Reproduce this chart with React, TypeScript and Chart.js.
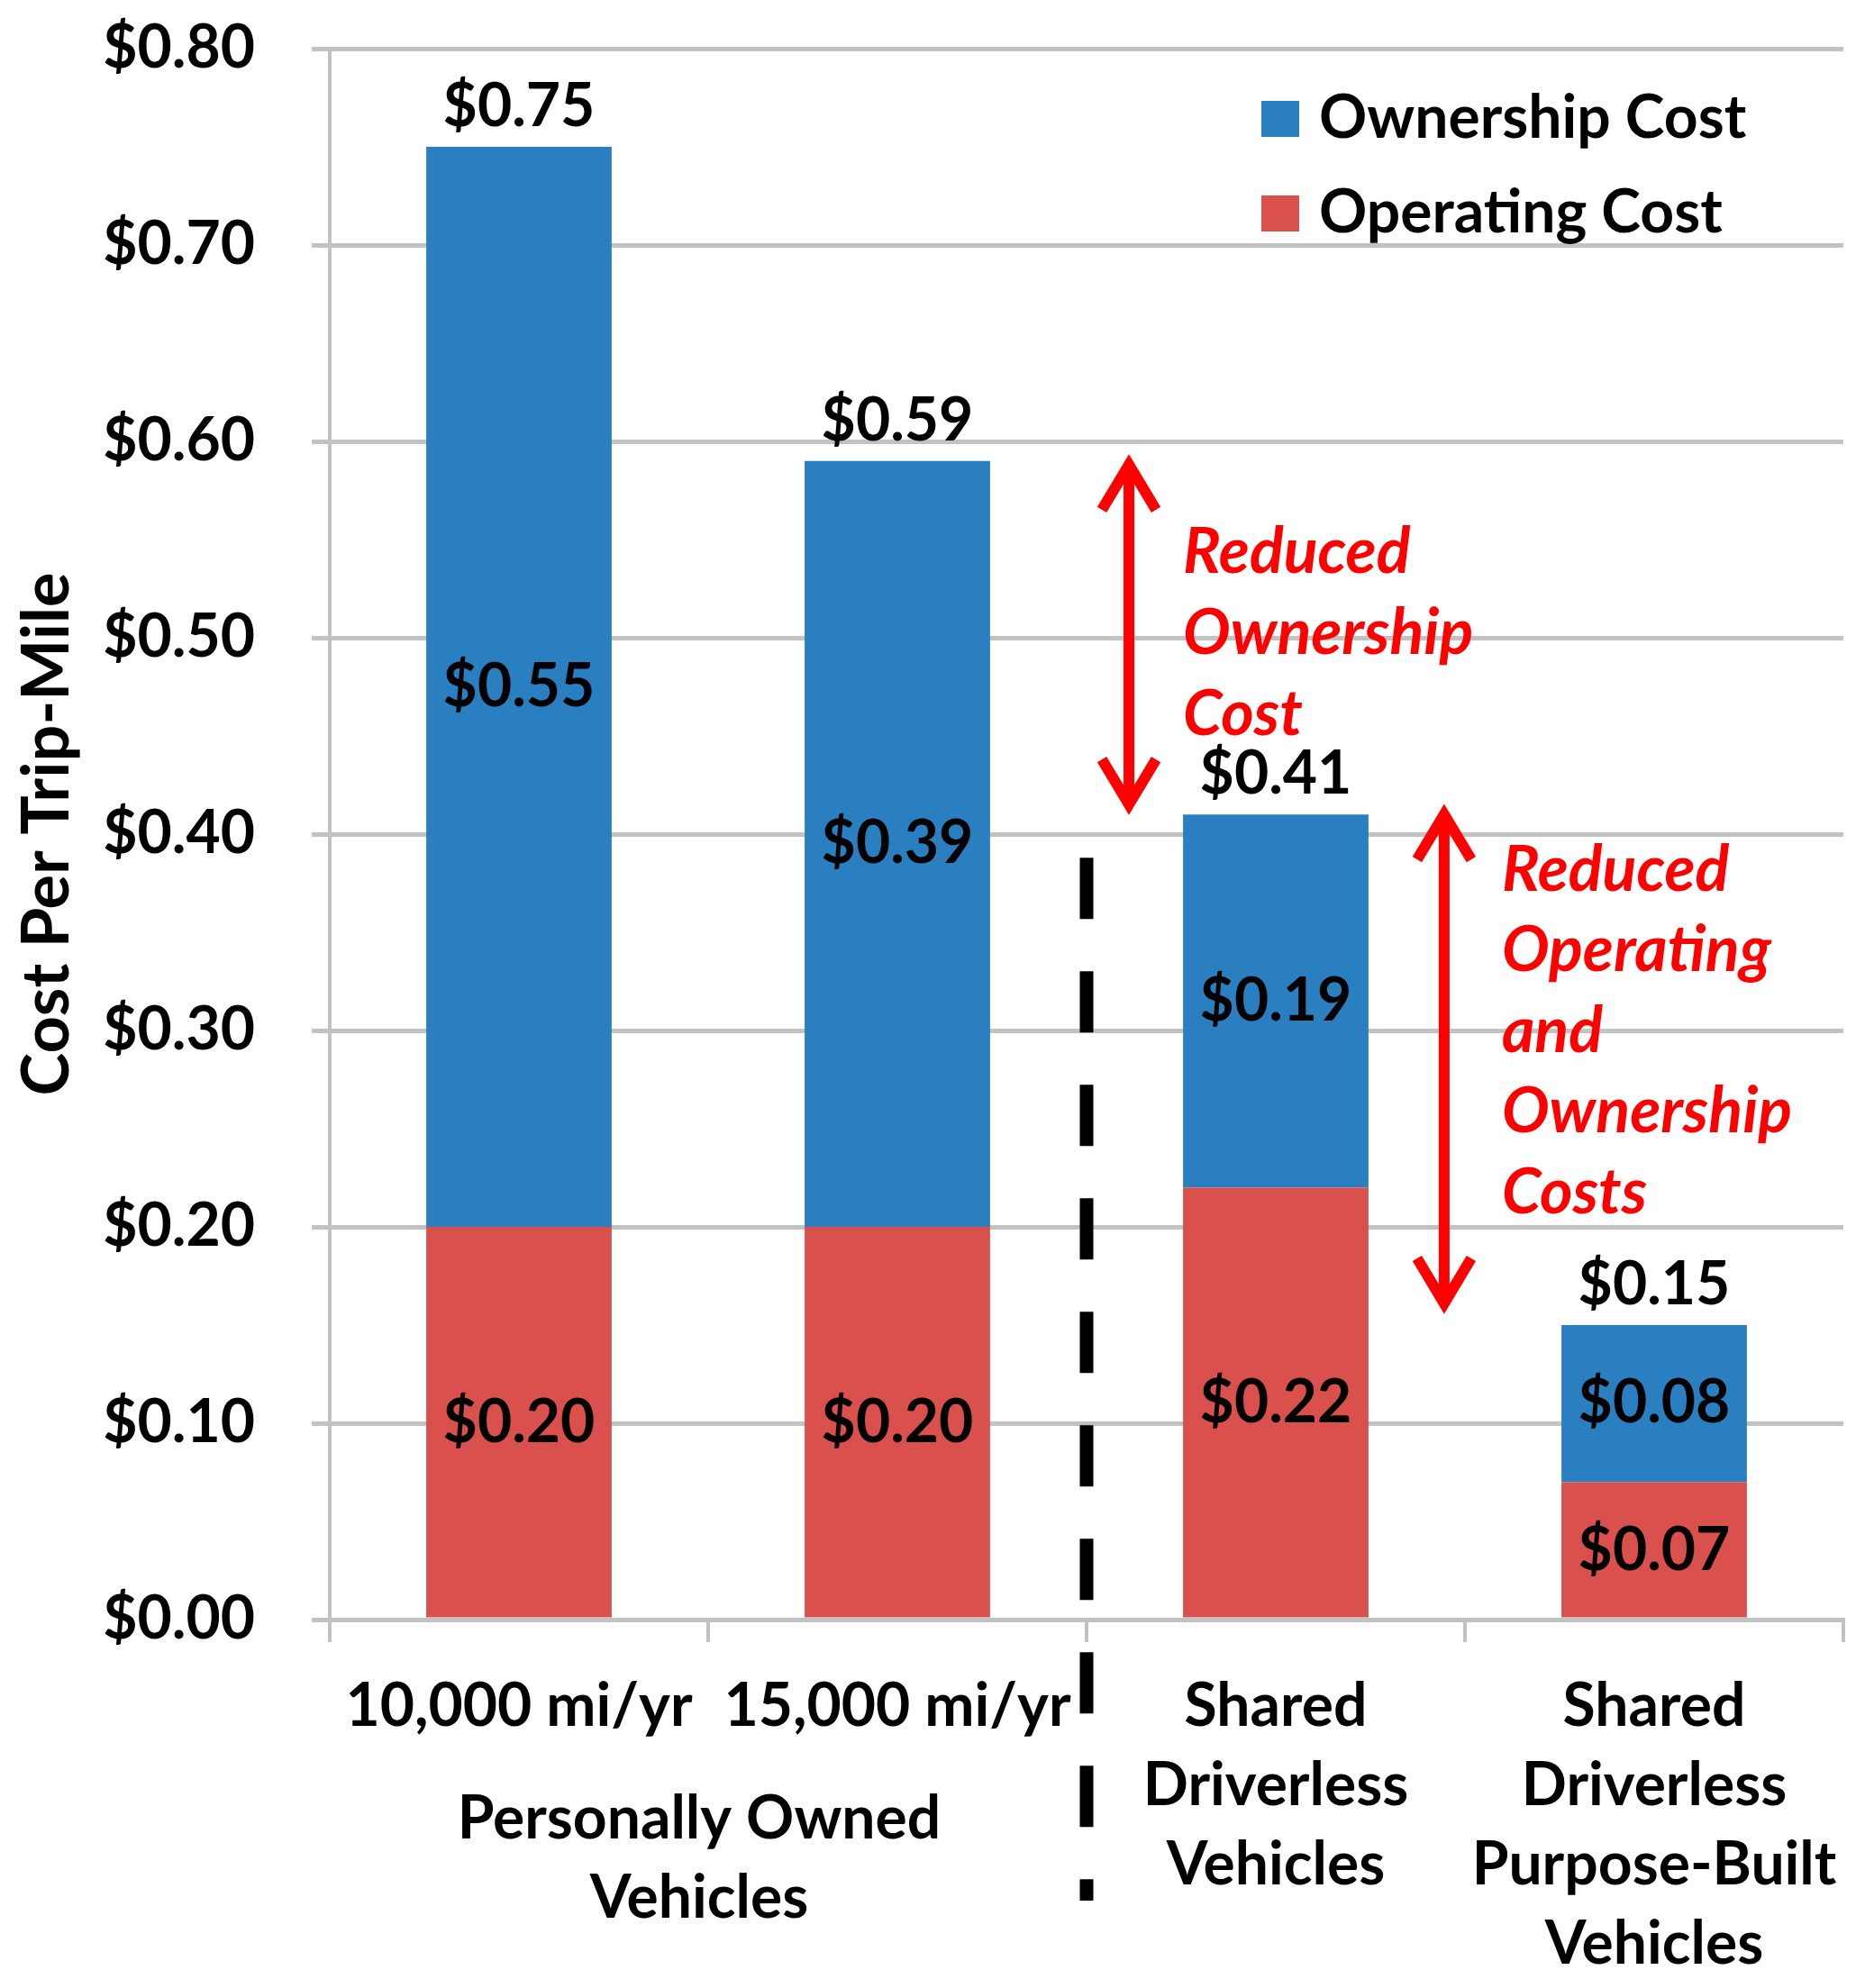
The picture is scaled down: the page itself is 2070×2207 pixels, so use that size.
import React, { useEffect, useRef } from "react";
import { Chart, registerables } from "chart.js";

Chart.register(...registerables);

// ---- data ----
const categories: string[][] = [
  ["10,000 mi/yr"],
  ["15,000 mi/yr"],
  ["Shared", "Driverless", "Vehicles"],
  ["Shared", "Driverless", "Purpose-Built", "Vehicles"],
];
const operatingCost = [0.2, 0.2, 0.22, 0.07];
const ownershipCost = [0.55, 0.39, 0.19, 0.08];
const totalCost = [0.75, 0.59, 0.41, 0.15];
const seriesNames = ["Ownership Cost", "Operating Cost"];
const groupLabel = ["Personally Owned", "Vehicles"];
const noteOwnership = ["Reduced", "Ownership", "Cost"];
const noteBoth = ["Reduced", "Operating", "and", "Ownership", "Costs"];
const yMin = 0;
const yMax = 0.8;
const yStep = 0.1;

// ---- style ----
const BLUE = "#2a7fc1";
const RED = "#d9504d";
const GRID = "#c2c2c2";
const FONT_FAMILY = "Lato";
const FS = 66;
const NOTE_FS = 70;
const fmt = (v: number) => "$" + v.toFixed(2);

function drawArrow(ctx: CanvasRenderingContext2D, x: number, y1: number, y2: number) {
  const hw = 30;
  const hl = 54;
  ctx.save();
  ctx.strokeStyle = "#ff0000";
  ctx.lineWidth = 12;
  ctx.lineCap = "butt";
  ctx.lineJoin = "miter";
  ctx.beginPath();
  ctx.moveTo(x, y1 + 4);
  ctx.lineTo(x, y2 - 4);
  ctx.stroke();
  ctx.beginPath();
  ctx.moveTo(x - hw, y1 + hl);
  ctx.lineTo(x, y1 + 4);
  ctx.lineTo(x + hw, y1 + hl);
  ctx.stroke();
  ctx.beginPath();
  ctx.moveTo(x - hw, y2 - hl);
  ctx.lineTo(x, y2 - 4);
  ctx.lineTo(x + hw, y2 - hl);
  ctx.stroke();
  ctx.restore();
}

const overlayPlugin = {
  id: "overlay",
  afterDatasetsDraw(chart: any) {
    const { ctx, chartArea, scales } = chart;
    const x = scales.x;
    const y = scales.y;
    const meta = chart.getDatasetMeta(0);
    ctx.save();
    ctx.font = `bold ${FS}px ${FONT_FAMILY}`;
    ctx.fillStyle = "#000";
    ctx.textAlign = "center";
    ctx.textBaseline = "middle";
    for (let i = 0; i < categories.length; i++) {
      const bx = meta.data[i].x;
      ctx.fillText(fmt(operatingCost[i]), bx, y.getPixelForValue(operatingCost[i] / 2));
      ctx.fillText(
        fmt(ownershipCost[i]),
        bx,
        y.getPixelForValue(operatingCost[i] + ownershipCost[i] / 2)
      );
      ctx.fillText(fmt(totalCost[i]), bx, y.getPixelForValue(totalCost[i]) - 44);
    }

    const c0 = x.getPixelForValue(0);
    const c1 = x.getPixelForValue(1);
    const c2 = x.getPixelForValue(2);
    const c3 = x.getPixelForValue(3);
    const cw = c1 - c0;

    // group label
    const gx = (c0 + c1) / 2 - 10;
    groupLabel.forEach((t, k) => {
      ctx.fillText(t, gx, chartArea.bottom + 222 + k * 88);
    });

    // dashed divider
    const dx = (c1 + c2) / 2;
    ctx.save();
    ctx.strokeStyle = "#000";
    ctx.lineWidth = 15;
    ctx.setLineDash([68, 58]);
    ctx.beginPath();
    ctx.moveTo(dx, y.getPixelForValue(0.388));
    ctx.lineTo(dx, chartArea.bottom + 312);
    ctx.stroke();
    ctx.restore();

    // arrows
    const a1x = (c1 + c2) / 2 + cw * 0.112;
    drawArrow(ctx, a1x, y.getPixelForValue(totalCost[1]), y.getPixelForValue(totalCost[2]) - 7);
    const a2x = (c2 + c3) / 2 - cw * 0.055;
    drawArrow(ctx, a2x, y.getPixelForValue(totalCost[2]) - 4, y.getPixelForValue(totalCost[3]) - 20);

    // notes
    ctx.fillStyle = "#ff0000";
    ctx.textAlign = "left";
    ctx.font = `italic bold ${NOTE_FS}px ${FONT_FAMILY}`;
    const n1y = y.getPixelForValue(totalCost[1]) + 102;
    noteOwnership.forEach((t, k) => ctx.fillText(t, a1x + 60, n1y + k * 90));
    const n2y = y.getPixelForValue(totalCost[2]) + 62;
    noteBoth.forEach((t, k) => ctx.fillText(t, a2x + 64, n2y + k * 89.5));

    // legend
    const lx = chartArea.right - 646;
    const ly = chartArea.top + 58;
    const colors = [BLUE, RED];
    ctx.font = `bold ${FS}px ${FONT_FAMILY}`;
    seriesNames.forEach((name, k) => {
      const top = ly + k * 105;
      ctx.fillStyle = colors[k];
      ctx.fillRect(lx, top, 42, 40);
      ctx.fillStyle = "#000";
      ctx.fillText(name, lx + 64, top + 20);
    });
    ctx.restore();
  },
};

export default function App() {
  const ref = useRef<HTMLCanvasElement | null>(null);
  useEffect(() => {
    if (!ref.current) return;
    const chart = new Chart(ref.current, {
      type: "bar",
      data: {
        labels: categories,
        datasets: [
          {
            label: seriesNames[1],
            data: operatingCost,
            backgroundColor: RED,
            borderWidth: 0,
            barPercentage: 0.49,
            categoryPercentage: 1,
          },
          {
            label: seriesNames[0],
            data: ownershipCost,
            backgroundColor: BLUE,
            borderWidth: 0,
            barPercentage: 0.49,
            categoryPercentage: 1,
          },
        ],
      },
      options: {
        animation: false,
        responsive: false,
        devicePixelRatio: 1,
        layout: { padding: { left: 8, right: 24, top: 54, bottom: 0 } },
        plugins: {
          legend: { display: false },
          tooltip: { enabled: false },
        },
        scales: {
          x: {
            stacked: true,
            grid: {
              display: true,
              drawOnChartArea: false,
              drawTicks: true,
              tickLength: 25,
              color: GRID,
              lineWidth: 4,
              offset: true,
            },
            border: { display: true, color: GRID, width: 5 },
            ticks: {
              color: "#000",
              font: { family: FONT_FAMILY, size: FS, weight: "bold", lineHeight: 1.333 },
              padding: 28,
              maxRotation: 0,
              minRotation: 0,
              autoSkip: false,
            },
            afterFit: (s: any) => {
              s.height = 409;
              s.paddingLeft = 0;
              s.paddingRight = 0;
            },
          },
          y: {
            stacked: true,
            min: yMin,
            max: yMax,
            grid: {
              color: GRID,
              lineWidth: 5,
              drawTicks: true,
              tickLength: 20,
            },
            border: { display: true, color: GRID, width: 4 },
            ticks: {
              stepSize: yStep,
              color: "#000",
              font: { family: FONT_FAMILY, size: FS, weight: "bold" },
              padding: 63,
              callback: (v: any) => fmt(Number(v)),
            },
            title: {
              display: true,
              text: "Cost Per Trip-Mile",
              color: "#000",
              font: { family: FONT_FAMILY, size: 72, weight: "bold", lineHeight: 1.2 },
              padding: { top: 2, bottom: 0 },
            },
            afterFit: (s: any) => {
              s.width = 358;
              s.paddingTop = 0;
              s.paddingBottom = 0;
            },
          },
        },
      },
      plugins: [overlayPlugin],
    });
    return () => chart.destroy();
  }, []);
  return (
    <div style={{ position: "absolute", left: 0, top: 0, width: 2070, height: 2207, background: "#fff" }}>
      <canvas ref={ref} width={2070} height={2207} style={{ display: "block", width: 2070, height: 2207 }} />
    </div>
  );
}
